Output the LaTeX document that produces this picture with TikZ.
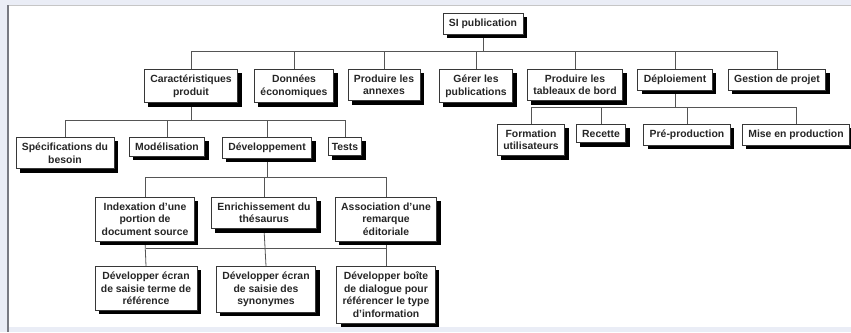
\documentclass[tikz,border=0pt]{standalone}
\usepackage{fontspec}
\setmainfont{Liberation Sans}
\usetikzlibrary{shadows, backgrounds}
\definecolor{panelBg}{RGB}{234,237,246}
\definecolor{panelEdge}{RGB}{120,122,130}
\definecolor{boxLine}{RGB}{55,55,55}
\definecolor{linkGray}{RGB}{85,85,85}

\begin{document}
\begin{tikzpicture}[x=1pt, y=-1pt,
		task/.style={draw=boxLine, fill=white, line width=0.7pt, anchor=north, align=center, text=black!85,
			font=\fontsize{10.4}{12.5}\selectfont\bfseries, inner xsep=6pt, inner ysep=5.6pt,
			drop shadow={shadow xshift=4pt, shadow yshift=-4pt, fill=black, opacity=1}},
		link/.style={draw=linkGray, line width=0.8pt}]
	\useasboundingbox (0,0) rectangle (851,332);
	% Root
	\node[task] (root) at (483,13) {SI publication};
	% Level 1
	\node[task] (car) at (191,69) {Caractéristiques\\produit};
	\node[task] (don) at (294,69) {Données\\économiques};
	\node[task] (ann) at (384,69) {Produire les\\annexes};
	\node[task] (pub) at (476,69) {Gérer les\\publications};
	\node[task] (tab) at (575,69) {Produire les\\tableaux de bord};
	\node[task] (dep) at (675,69) {Déploiement};
	\node[task] (ges) at (777,69) {Gestion de projet};
	% Under Caracteristiques
	\node[task] (spe) at (65,137) {Spécifications du\\besoin};
	\node[task] (mod) at (167,137) {Modélisation};
	\node[task] (dev) at (267,137) {Développement};
	\node[task, inner xsep=3.5pt] (tes) at (345,137) {Tests};
	% Under Deploiement
	\node[task] (for) at (531,124) {Formation\\utilisateurs};
	\node[task] (rec) at (601,124) {Recette};
	\node[task] (pre) at (687,124) {Pré-production};
	\node[task] (mis) at (796,124) {Mise en production};
	% Under Developpement
	\node[task] (idx) at (145,197) {Indexation d'une\\portion de\\document source};
	\node[task] (enr) at (264,197) {Enrichissement du\\thésaurus};
	\node[task] (ass) at (386,197) {Association d'une\\remarque\\éditoriale};
	% Screens
	\node[task] (ecrA) at (146,266) {Développer écran\\de saisie terme de\\référence};
	\node[task] (ecrB) at (266,266) {Développer écran\\de saisie des\\synonymes};
	\node[task] (boi) at (386,266) {Développer boîte\\de dialogue pour\\référencer le type\\d'information};

	\coordinate (busA) at (0,51);
	\coordinate (busB) at (0,120);
	\coordinate (busC) at (0,107);
	\coordinate (busD) at (0,177);
	\coordinate (busE) at (0,248);

	\begin{scope}[on background layer]
		% Frame
		\fill[panelBg] (0,0) rectangle (851,332);
		\fill[white] (8,5) rectangle (851,327);
		\draw[gray!45, line width=0.8pt] (8,5) -- (851,5);
		\draw[panelEdge, line width=1.4pt] (8,5) -- (8,332);
		% Links
		\foreach \c in {car,don,ann,pub,tab,dep,ges}
			\draw[link] (root.south) -- (root.south |- busA) -| (\c.north);
		\foreach \c in {spe,mod,dev,tes}
			\draw[link] (car.south) -- (car.south |- busB) -| (\c.north);
		\foreach \c in {for,rec,pre,mis}
			\draw[link] (dep.south) -- (dep.south |- busC) -| (\c.north);
		\foreach \c in {idx,enr,ass}
			\draw[link] (dev.south) -- (dev.south |- busD) -| (\c.north);
		\draw[link] (idx.south) -- (ecrA.north);
		\draw[link] (enr.south) -- (ecrB.north);
		\draw[link] (ass.south) -- (boi.north);
		\draw[link] (ecrA.north |- busE) -- (boi.north |- busE);
	\end{scope}
\end{tikzpicture}
\end{document}
